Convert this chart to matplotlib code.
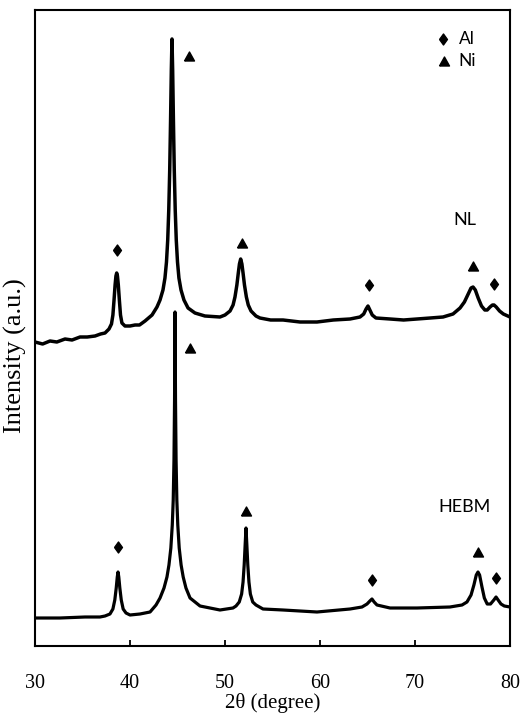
import matplotlib
matplotlib.use("Agg")
import matplotlib.pyplot as plt

# ---- data (2theta in degrees, intensity in arbitrary units) ----
nl_2theta = [30.00, 30.80, 31.58, 32.30, 33.16, 33.90, 34.74, 35.50, 36.32, 36.90,
             37.37, 37.79, 38.05, 38.20, 38.32, 38.43, 38.52, 38.60, 38.68, 38.77,
             38.88, 39.00, 39.15, 39.47, 40.00, 40.53, 41.00, 41.58, 42.32, 42.84,
             43.16, 43.47, 43.68, 43.84, 43.97, 44.08, 44.18, 44.27, 44.35, 44.42,
             44.49, 44.57, 44.66, 44.76, 44.87, 45.00, 45.15, 45.37, 45.68, 46.11,
             46.84, 47.89, 49.47, 50.00, 50.53, 50.85, 51.05, 51.25, 51.40, 51.52,
             51.65, 51.78, 51.90, 52.05, 52.25, 52.45, 52.74, 53.26, 53.68, 54.80,
             56.11, 57.90, 59.68, 61.40, 63.16, 64.21, 64.60, 64.85, 65.05, 65.25,
             65.50, 65.89, 67.37, 68.80, 70.21, 71.60, 72.95, 74.00, 74.74, 75.20,
             75.60, 75.90, 76.11, 76.35, 76.65, 77.00, 77.35, 77.60, 77.90, 78.15,
             78.32, 78.55, 78.90, 79.30, 80.00]
nl_intensity = [308, 306, 309, 308, 311, 310, 313, 313, 314, 316,
                317, 321, 326, 335, 350, 365, 374, 377, 374, 365,
                350, 335, 327, 324, 324, 325, 325, 329, 335, 343,
                350, 360, 372, 388, 410, 440, 480, 530, 580, 611,
                580, 530, 480, 440, 410, 388, 372, 360, 350, 342,
                337, 334, 333, 335, 339, 345, 353, 365, 377, 386,
                391, 386, 377, 365, 353, 345, 339, 334, 332, 330,
                330, 328, 328, 330, 331, 333, 336, 341, 344, 340,
                335, 332, 331, 330, 331, 332, 333, 336, 342, 348,
                356, 362, 363, 360, 352, 344, 340, 340, 343, 345,
                345, 343, 339, 336, 333]

hebm_2theta = [30.00, 32.63, 35.26, 36.84, 37.37, 37.89, 38.20, 38.40, 38.55, 38.66,
               38.74, 38.82, 38.93, 39.08, 39.28, 39.58, 40.00, 41.05, 42.11, 42.74,
               43.16, 43.58, 43.89, 44.10, 44.30, 44.45, 44.55, 44.63, 44.69, 44.74,
               44.79, 44.85, 44.93, 45.03, 45.18, 45.38, 45.60, 45.89, 46.32, 47.37,
               49.47, 50.84, 51.16, 51.50, 51.75, 51.90, 52.02, 52.12, 52.21, 52.30,
               52.40, 52.52, 52.67, 52.92, 53.26, 54.00, 56.11, 59.68, 63.16, 64.42,
               64.95, 65.25, 65.47, 65.70, 66.00, 67.37, 70.21, 73.68, 74.95, 75.47,
               75.90, 76.20, 76.45, 76.63, 76.80, 77.05, 77.30, 77.60, 77.95, 78.30,
               78.53, 78.75, 79.05, 79.40, 80.00]
hebm_intensity = [32, 32, 33, 33, 34, 36, 41, 50, 62, 73,
                  78, 73, 62, 50, 41, 37, 35, 36, 38, 45,
                  52, 62, 73, 85, 102, 125, 150, 190, 250, 338,
                  250, 190, 150, 125, 102, 85, 73, 62, 52, 44,
                  40, 42, 44, 48, 56, 68, 85, 105, 122, 105,
                  85, 68, 56, 48, 45, 41, 40, 38, 41, 43,
                  46, 49, 51, 48, 45, 42, 42, 43, 45, 48,
                  55, 65, 75, 78, 75, 63, 52, 46, 46, 50,
                  53, 50, 46, 44, 43]

# phase markers: (2theta, intensity)
al_nl_x = [38.63, 65.16, 78.32]
al_nl_y = [400, 365, 366]
ni_nl_x = [46.21, 51.79, 76.11]
ni_nl_y = [594, 407, 384]
al_hebm_x = [38.74, 65.47, 78.53]
al_hebm_y = [103, 70, 72]
ni_hebm_x = [46.32, 52.21, 76.63]
ni_hebm_y = [302, 139, 98]

x_ticks = [30, 40, 50, 60, 70, 80]

serif = ["Liberation Serif", "DejaVu Serif"]
sans = ["Lato", "DejaVu Sans"]

diamond = [(-0.36, 0), (0, 0.5), (0.36, 0), (0, -0.5), (-0.36, 0)]
triangle = [(-0.5, -0.45), (0.5, -0.45), (0, 0.45), (-0.5, -0.45)]

fig = plt.figure(figsize=(5.21, 7.14), dpi=100)
ax = fig.add_axes([35 / 521, 68 / 714, 475 / 521, 636 / 714])

ax.plot(nl_2theta, nl_intensity, color="black", lw=2.5,
        solid_joinstyle="round", solid_capstyle="round")
ax.plot(hebm_2theta, hebm_intensity, color="black", lw=2.3,
        solid_joinstyle="round", solid_capstyle="round")

ms_d = 7.9
ms_t = 7.2
ax.plot(al_nl_x, al_nl_y, ls="none", marker=diamond, ms=ms_d, color="black")
ax.plot(al_hebm_x, al_hebm_y, ls="none", marker=diamond, ms=ms_d, color="black")
ax.plot(ni_nl_x, ni_nl_y, ls="none", marker=triangle, ms=ms_t, color="black")
ax.plot(ni_hebm_x, ni_hebm_y, ls="none", marker=triangle, ms=ms_t, color="black")

# key
ax.plot([72.95], [611], ls="none", marker=diamond, ms=ms_d, color="black")
ax.plot([73.05], [589], ls="none", marker=triangle, ms=ms_t, color="black")
ax.text(74.6, 611, "Al", family=sans, fontsize=12.5, va="center", ha="left")
ax.text(74.6, 589, "Ni", family=sans, fontsize=12.5, va="center", ha="left")

ax.text(75.26, 430, "NL", family=sans, fontsize=13, va="center", ha="center")
ax.text(75.26, 143, "HEBM", family=sans, fontsize=13, va="center", ha="center")

ax.set_xlim(30, 80)
ax.set_ylim(4, 640)
ax.set_xticks(x_ticks)
ax.set_xticklabels([str(t) for t in x_ticks], family=serif, fontsize=14.5)
ax.set_yticks([])
ax.tick_params(axis="x", direction="in", length=4, width=1.3, pad=20)

for s in ax.spines.values():
    s.set_linewidth(1.5)

ax.set_xlabel("2θ (degree)", family=serif, fontsize=15)
ax.xaxis.set_label_coords(0.5, (646 - 703) / 636)
ax.xaxis.label.set_va("center")
ax.set_ylabel("Intensity (a.u.)", family=serif, fontsize=19)
ax.yaxis.set_label_coords((15 - 35) / 475, 0.456)
ax.yaxis.label.set_va("center")

fig.savefig("out.png", dpi=100)
